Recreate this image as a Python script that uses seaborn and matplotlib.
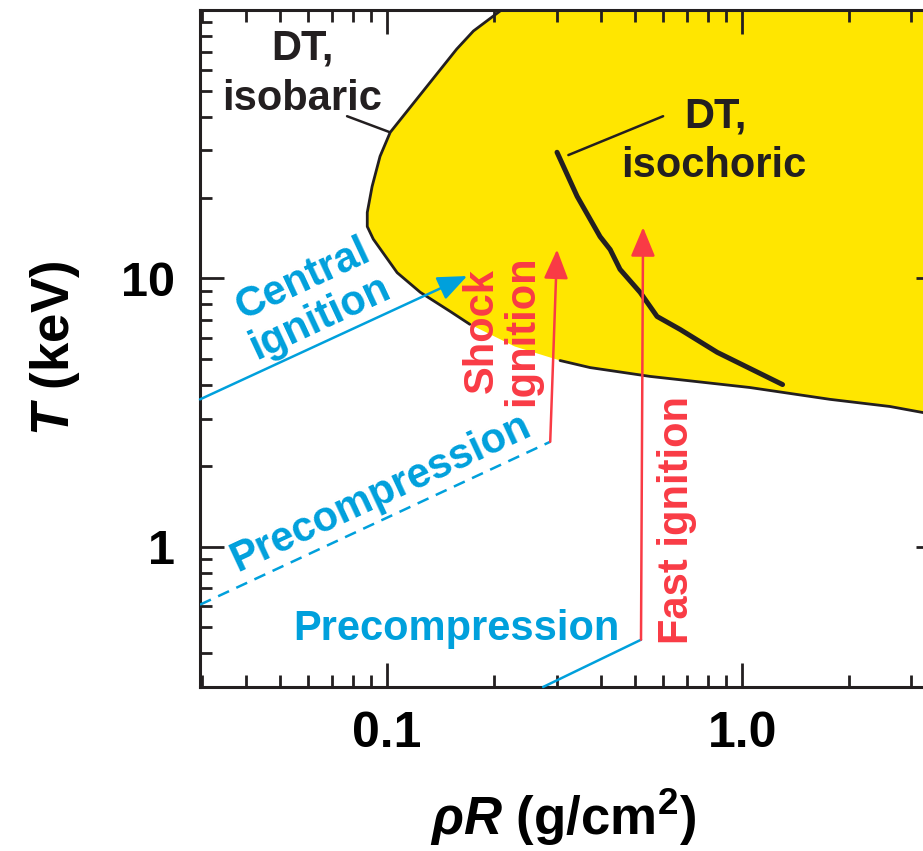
import numpy as np
import matplotlib
matplotlib.use("Agg")
import matplotlib.pyplot as plt
import seaborn as sns
from matplotlib.ticker import FixedLocator, NullFormatter, LogLocator

# ---------------- data ----------------
# ignition boundary (DT, isobaric) - edge of yellow region
boundary_rhoR = [0.241, 0.212, 0.175, 0.157, 0.102, 0.0955, 0.0907, 0.0879, 0.0879,
                 0.0914, 0.1067, 0.124, 0.1505, 0.171, 0.229, 0.307, 0.373, 0.551,
                 1.05, 1.77, 2.61, 2.92, 3.24, 4.5]
boundary_T = [114, 101, 83.5, 71.5, 35.0, 28.5, 22.0, 17.6, 15.6,
              14.0, 10.5, 8.87, 7.53, 6.74, 5.57, 4.94, 4.65, 4.31,
              3.92, 3.54, 3.33, 3.24, 3.16, 2.9]
# index where the black outline is interrupted (behind "Shock ignition")
outline_gap = (13, 15)

# DT isochoric curve
isochoric_rhoR = [0.301, 0.343, 0.398, 0.425, 0.453, 0.516, 0.576, 0.669, 0.851, 1.30]
isochoric_T = [29.5, 20.2, 14.3, 12.8, 10.8, 8.87, 7.21, 6.45, 5.30, 4.02]

# paths
central_rhoR = [0.0297, 0.168]
central_T = [3.54, 10.2]
precomp_dash_rhoR = [0.0297, 0.288]
precomp_dash_T = [0.608, 2.46]
shock_rhoR = [0.288, 0.301]
shock_T = [2.46, 12.8]
precomp_solid_rhoR = [0.275, 0.519]
precomp_solid_T = [0.30, 0.45]
fast_rhoR = [0.519, 0.526]
fast_T = [0.45, 15.5]
isobaric_leader_rhoR = [0.0771, 0.1014]
isobaric_leader_T = [40.2, 35.1]
isochoric_leader_rhoR = [0.324, 0.599]
isochoric_leader_T = [28.8, 40.2]

x_ticks = [0.1, 1.0]
x_tick_labels = ["0.1", "1.0"]
y_ticks = [1, 10]
y_tick_labels = ["1", "10"]

# ---------------- style ----------------
sns.set_theme(style="ticks")
FONT = "Liberation Sans"
plt.rcParams["font.family"] = [FONT, "DejaVu Sans"]
plt.rcParams["mathtext.fontset"] = "custom"
plt.rcParams["mathtext.rm"] = "Liberation Sans:bold"
plt.rcParams["mathtext.it"] = "Liberation Sans:italic:bold"
plt.rcParams["mathtext.bf"] = "Liberation Sans:bold"
plt.rcParams["mathtext.sf"] = "Liberation Sans:bold"

YELLOW = "#FFE600"
BLUE = "#00A0DC"
RED = "#F93B45"
INK = "#231F20"

W, H = 923, 851
fig = plt.figure(figsize=(W / 100, H / 100), dpi=100)
# right spine lies just outside the picture (as in the reference)
ax = fig.add_axes([200 / W, 1 - 687 / H, 740 / W, 677 / H])
ax.set_xscale("log")
ax.set_yscale("log")
ax.set_xlim(0.0297, 3.61)
ax.set_ylim(0.3, 100)
ax.set_axisbelow(False)


def P(x, y):
    return (x / W, 1 - y / H)


# yellow region
poly_x = boundary_rhoR + [boundary_rhoR[-1], boundary_rhoR[0]]
poly_y = boundary_T + [300, 300]
ax.fill(poly_x, poly_y, color=YELLOW, lw=0, zorder=1)

# outline (two pieces)
a, b = outline_gap
sns.lineplot(x=boundary_rhoR[: a + 1], y=boundary_T[: a + 1], sort=False, estimator=None,
             color=INK, lw=2.0, ax=ax, zorder=2)
sns.lineplot(x=boundary_rhoR[b:], y=boundary_T[b:], sort=False, estimator=None,
             color=INK, lw=2.0, ax=ax, zorder=2)

# isochoric curve
sns.lineplot(x=isochoric_rhoR, y=isochoric_T, sort=False, estimator=None,
             color=INK, lw=3.6, ax=ax, zorder=3)

# leaders
ax.plot(isobaric_leader_rhoR, isobaric_leader_T, color=INK, lw=1.8, zorder=3)
ax.plot(isochoric_leader_rhoR, isochoric_leader_T, color=INK, lw=1.8, zorder=3)

# precompression lines
ax.plot(precomp_dash_rhoR, precomp_dash_T, color=BLUE, lw=1.8, ls=(0, (4.8, 3.2)), zorder=3)
ax.plot(precomp_solid_rhoR, precomp_solid_T, color=BLUE, lw=1.8, zorder=3, clip_on=False)


def arrow(xs, ys, color):
    ax.annotate("", xy=(xs[1], ys[1]), xytext=(xs[0], ys[0]),
                arrowprops=dict(arrowstyle="-|>,head_length=18,head_width=7.5",
                                mutation_scale=1, color=color, lw=1.8,
                                shrinkA=0, shrinkB=0),
                zorder=4)


arrow(central_rhoR, central_T, BLUE)
arrow(shock_rhoR, shock_T, RED)
arrow(fast_rhoR, fast_T, RED)

# ---------------- text ----------------
fs = 30
tk = dict(transform=fig.transFigure, fontsize=fs, fontweight="bold", zorder=5)
ax.text(*P(302, 60), "DT,", ha="center", va="baseline", color=INK, **tk)
ax.text(*P(302, 110), "isobaric", ha="center", va="baseline", color=INK, **tk)
ax.text(*P(715, 128), "DT,", ha="center", va="baseline", color=INK, **tk)
ax.text(*P(714, 177), "isochoric", ha="center", va="baseline", color=INK, **tk)
ax.text(*P(311, 299), "Central\nignition", ha="center", va="center", rotation=25,
        linespacing=1.05, color=BLUE, **tk)
ax.text(*P(381, 493), "Precompression", ha="center", va="center", rotation=25,
        color=BLUE, **tk)
ax.text(*P(456, 640), "Precompression", ha="center", va="baseline", color=BLUE, **tk)
ax.text(*P(502, 331), "Shock\nignition", ha="center", va="center", rotation=90,
        linespacing=0.98, color=RED, **tk)
ax.text(*P(688, 520), "Fast ignition", ha="center", va="baseline", rotation=90,
        rotation_mode="anchor", color=RED, **tk)

# ---------------- axes ----------------
ax.xaxis.set_major_locator(FixedLocator(x_ticks))
ax.yaxis.set_major_locator(FixedLocator(y_ticks))
ax.xaxis.set_minor_locator(LogLocator(base=10, subs=np.arange(2, 10)))
ax.yaxis.set_minor_locator(LogLocator(base=10, subs=np.arange(2, 10)))
ax.xaxis.set_minor_formatter(NullFormatter())
ax.yaxis.set_minor_formatter(NullFormatter())
ax.set_xticklabels(x_tick_labels, fontsize=36, fontweight="bold", color="black")
ax.set_yticklabels(y_tick_labels, fontsize=35, fontweight="bold", color="black")

ax.tick_params(which="both", direction="in", top=True, right=True, color=INK, width=2.0)
ax.tick_params(which="major", length=17)
ax.tick_params(which="minor", length=8.5)
ax.tick_params(axis="x", which="major", pad=17)
ax.tick_params(axis="y", which="major", pad=18)
for s in ax.spines.values():
    s.set_linewidth(2.2)
    s.set_color(INK)
    s.set_visible(True)

ax.set_xlabel(r"$\rho R$ (g/cm$^2$)", fontsize=38, fontweight="bold", color="black")
ax.set_ylabel(r"$T$ (keV)", fontsize=38, fontweight="bold", color="black")
ax.xaxis.set_label_coords(0.5 * 725 / 740, -0.148)
ax.yaxis.set_label_coords(-0.163 * 725 / 740, 0.5)
ax.grid(False)

fig.savefig("out.png", dpi=100, facecolor="white")
